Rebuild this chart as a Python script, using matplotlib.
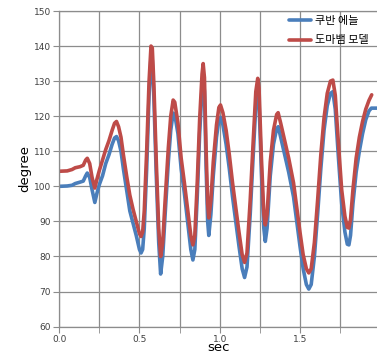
import numpy as np
import matplotlib
matplotlib.use('Agg')
import matplotlib.pyplot as plt
from matplotlib.ticker import MultipleLocator

plt.rcParams['font.family'] = ['DejaVu Sans', 'Noto Sans CJK KR']

# 쿠반 에늘 (blue)
t_blue = [0.0, 0.05, 0.08, 0.10, 0.13, 0.15, 0.165, 0.175, 0.19, 0.205, 0.222,
          0.235, 0.25, 0.27, 0.29, 0.31, 0.33, 0.345, 0.357, 0.37, 0.385, 0.40,
          0.42, 0.44, 0.46, 0.48, 0.50, 0.51, 0.52, 0.53, 0.545, 0.56, 0.572,
          0.58, 0.59, 0.605, 0.62, 0.632, 0.645, 0.66, 0.68, 0.695, 0.71, 0.72,
          0.74, 0.76, 0.78, 0.80, 0.82, 0.833, 0.845, 0.86, 0.875, 0.89, 0.897,
          0.905, 0.915, 0.925, 0.932, 0.945, 0.96, 0.98, 0.995, 1.005, 1.02,
          1.04, 1.06, 1.08, 1.10, 1.12, 1.14, 1.155, 1.17, 1.19, 1.21, 1.225,
          1.235, 1.245, 1.26, 1.275, 1.284, 1.295, 1.315, 1.335, 1.355, 1.365,
          1.38, 1.40, 1.43, 1.46, 1.48, 1.50, 1.52, 1.54, 1.555, 1.57, 1.59,
          1.61, 1.63, 1.65, 1.67, 1.69, 1.705, 1.72, 1.74, 1.76, 1.78, 1.795,
          1.805, 1.815, 1.83, 1.85, 1.87, 1.89, 1.91, 1.93, 1.945, 1.98]
v_blue = [100.0, 100.1, 100.3, 100.8, 101.2, 101.5, 103.0, 103.8, 102.5, 99.0, 95.4,
          98.0, 100.5, 103.0, 106.5, 109.0, 112.0, 113.8, 114.2, 113.0, 110.0, 105.0,
          99.0, 93.0, 89.5, 86.0, 82.0, 81.0, 82.0, 88.0, 105.0, 126.0, 137.0,
          136.0, 125.0, 103.0, 84.0, 75.0, 80.0, 92.0, 107.0, 116.0, 120.9, 120.5,
          115.0, 105.0, 98.0, 90.0, 82.0, 79.0, 82.0, 97.0, 115.0, 128.0, 131.5,
          127.0, 106.0, 90.0, 86.0, 92.0, 103.0, 114.0, 119.0, 119.7, 117.5,
          112.0, 105.0, 97.0, 90.0, 83.0, 76.5, 74.0, 77.0, 92.0, 110.0, 123.0,
          127.5, 124.0, 104.0, 88.0, 84.3, 88.0, 103.0, 112.0, 116.5, 117.0,
          114.0, 110.0, 104.0, 97.0, 90.0, 83.0, 76.5, 72.0, 70.7, 72.0, 80.0,
          92.0, 105.0, 116.0, 123.0, 126.5, 127.0, 122.0, 108.0, 95.0, 87.0, 83.5,
          83.3, 86.0, 95.0, 104.0, 110.0, 115.0, 119.0, 121.5, 122.3, 122.3]

# 도마뱀 모델 (red)
t_red = [0.0, 0.05, 0.08, 0.10, 0.13, 0.15, 0.165, 0.175, 0.19, 0.205, 0.222,
         0.235, 0.25, 0.27, 0.29, 0.31, 0.33, 0.345, 0.357, 0.37, 0.385, 0.40,
         0.42, 0.44, 0.46, 0.48, 0.50, 0.51, 0.52, 0.53, 0.545, 0.56, 0.572,
         0.58, 0.59, 0.605, 0.62, 0.632, 0.645, 0.66, 0.68, 0.695, 0.71, 0.72,
         0.74, 0.76, 0.78, 0.80, 0.82, 0.833, 0.845, 0.86, 0.875, 0.89, 0.897,
         0.905, 0.915, 0.925, 0.932, 0.945, 0.96, 0.98, 0.995, 1.005, 1.02,
         1.04, 1.06, 1.08, 1.10, 1.12, 1.14, 1.155, 1.17, 1.19, 1.21, 1.225,
         1.237, 1.245, 1.26, 1.275, 1.284, 1.295, 1.315, 1.335, 1.355, 1.364,
         1.38, 1.40, 1.43, 1.46, 1.48, 1.50, 1.52, 1.54, 1.555, 1.57, 1.59,
         1.61, 1.63, 1.65, 1.67, 1.69, 1.705, 1.72, 1.74, 1.76, 1.78, 1.795,
         1.805, 1.815, 1.83, 1.85, 1.87, 1.89, 1.91, 1.93, 1.947]
v_red = [104.3, 104.4, 104.8, 105.3, 105.6, 106.0, 107.5, 108.0, 106.5, 102.5, 99.5,
         102.0, 104.5, 107.5, 110.5, 113.0, 116.0, 118.0, 118.5, 117.0, 114.0, 109.0,
         103.0, 97.5, 93.5, 90.0, 86.5, 85.7, 87.0, 93.0, 110.0, 130.0, 140.0,
         139.5, 129.0, 107.0, 88.0, 80.0, 84.0, 96.0, 111.0, 120.0, 124.6, 124.0,
         118.0, 108.0, 101.0, 93.5, 86.0, 83.3, 86.0, 101.0, 119.0, 132.0, 135.0,
         131.0, 111.0, 95.0, 91.0, 96.0, 107.0, 117.5, 122.5, 123.2, 121.0,
         116.0, 109.0, 101.0, 94.0, 87.0, 80.5, 78.3, 81.0, 96.0, 114.0, 127.0,
         130.8, 128.0, 108.0, 92.0, 89.0, 92.0, 107.0, 116.0, 120.5, 121.0,
         118.0, 114.0, 108.0, 101.0, 94.0, 87.0, 80.5, 76.5, 75.3, 76.5, 84.0,
         96.0, 109.0, 119.5, 126.5, 130.0, 130.3, 126.0, 112.0, 99.0, 91.5, 88.3,
         88.1, 90.5, 99.0, 108.0, 114.0, 118.5, 122.0, 124.5, 126.1]

fig = plt.figure(figsize=(3.77, 3.55), dpi=100)
ax = fig.add_axes([0.157, 0.08, 0.843, 0.889])

ax.plot(t_blue, v_blue, color='#4a7ebb', lw=2.6, label='쿠반 에늘',
        solid_joinstyle='round', solid_capstyle='round')
ax.plot(t_red, v_red, color='#be4b48', lw=2.6, label='도마뱀 모델',
        solid_joinstyle='round', solid_capstyle='round')

ax.set_xlim(0, 1.98)
ax.set_ylim(60, 150)
ax.xaxis.set_major_locator(MultipleLocator(0.5))
ax.xaxis.set_minor_locator(MultipleLocator(0.25))
ax.yaxis.set_major_locator(MultipleLocator(10))
ax.xaxis.set_major_formatter(matplotlib.ticker.FormatStrFormatter('%.1f'))

ax.grid(True, which='both', axis='x', color='#8c8c8c', lw=0.9)
ax.grid(True, which='major', axis='y', color='#8c8c8c', lw=0.9)
ax.set_axisbelow(True)

for s in ['left', 'bottom', 'top']:
    ax.spines[s].set_color('#8c8c8c')
    ax.spines[s].set_linewidth(0.9)
ax.spines['right'].set_visible(False)

ax.tick_params(which='both', direction='out', length=4, color='#8c8c8c',
               labelsize=6.5, labelcolor='#404040', pad=2)

ax.set_xlabel('sec', fontsize=9.5, labelpad=-2)
ax.set_ylabel('degree', fontsize=9.5, labelpad=2)

leg = ax.legend(loc='upper left', bbox_to_anchor=(0.767, 0.955),
                bbox_transform=fig.transFigure, frameon=False,
                handlelength=2.0, handletextpad=0.3, labelspacing=0.85,
                borderaxespad=0, borderpad=0,
                prop={'family': ['Noto Sans CJK KR', 'DejaVu Sans'], 'size': 8})

fig.savefig('out.png', dpi=100)
